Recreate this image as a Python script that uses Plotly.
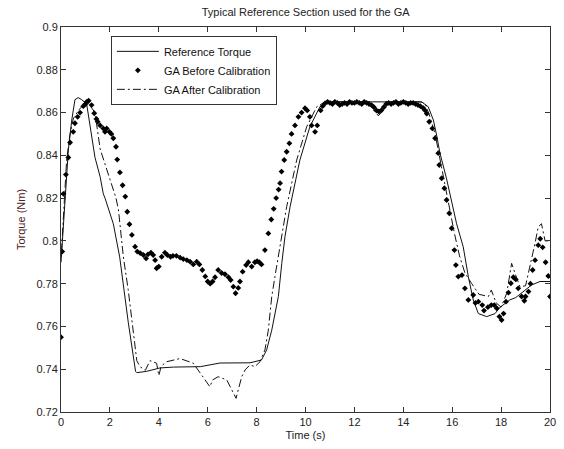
import plotly.graph_objects as go

# Reference torque (solid)
ref_t = [0, 0.16, 0.3, 0.44, 0.57, 0.7, 0.85, 1.05, 1.19, 1.39, 1.6, 1.73, 1.8, 2.0, 2.14, 2.4,
         2.75, 3.05, 3.1, 3.5, 4.05, 4.6, 5.28, 5.7, 6.5, 7.05, 7.73, 8.2, 8.41, 8.62, 8.89, 9.03,
         9.16, 9.37, 9.77, 10.18, 10.59, 10.87, 11.5, 12.5, 13.5, 14.5, 14.75, 15.02, 15.23, 15.37,
         15.5, 15.77, 16.0, 16.18, 16.45, 16.66, 16.86, 17.07, 17.41, 17.75, 17.96, 18.36, 18.6,
         18.98, 19.25, 19.59, 20]
ref_y = [0.790, 0.819, 0.8425, 0.8565, 0.866, 0.867, 0.866, 0.864, 0.853, 0.839, 0.830, 0.822,
         0.820, 0.813, 0.808, 0.7925, 0.762, 0.739, 0.7384, 0.739, 0.7406, 0.741, 0.7412, 0.7412,
         0.7429, 0.7429, 0.743, 0.7443, 0.749, 0.7583, 0.774, 0.7895, 0.802, 0.816, 0.8378, 0.8534,
         0.8627, 0.865, 0.865, 0.865, 0.865, 0.865, 0.865, 0.8627, 0.8565, 0.8490, 0.841, 0.829,
         0.818, 0.808, 0.7973, 0.7833, 0.7724, 0.766, 0.7646, 0.766, 0.769, 0.7724, 0.7735, 0.777,
         0.7794, 0.781, 0.781]

# GA after calibration (dash-dot)
after_t = [0.02, 0.16, 0.23, 0.37, 0.5, 0.71, 0.91, 1.12, 1.39, 1.6, 1.8, 2.0, 2.25, 2.35, 2.55,
           2.75, 2.96, 3.1, 3.23, 3.45, 3.64, 3.91, 4.0, 4.1, 4.32, 4.87, 5.41, 5.82, 6.09, 6.2,
           6.43, 6.78, 7.05, 7.16, 7.39, 7.53, 7.73, 7.93, 8.14, 8.34, 8.48, 8.62, 8.75, 8.96, 9.09,
           9.23, 9.64, 10.05, 10.46, 10.8, 12.6, 12.78, 12.98, 13.1, 13.3, 14.7, 14.89, 15.09, 15.3,
           15.6, 15.9, 16.1, 16.3, 16.52, 16.8, 17.0, 17.1, 17.48, 17.6, 17.8, 18.0, 18.23, 18.43,
           18.57, 18.77, 19.0, 19.18, 19.39, 19.52, 19.65, 19.8, 20]
after_y = [0.795, 0.822, 0.8378, 0.850, 0.857, 0.861, 0.8635, 0.8643, 0.860, 0.843, 0.836, 0.829,
           0.820, 0.8145, 0.7926, 0.777, 0.758, 0.744, 0.7412, 0.7395, 0.744, 0.7428, 0.737,
           0.7415, 0.7435, 0.745, 0.7428, 0.7365, 0.7318, 0.735, 0.7365, 0.735, 0.7288, 0.7264,
           0.7365, 0.7397, 0.742, 0.7412, 0.7435, 0.749, 0.7583, 0.774, 0.7833, 0.7973, 0.805,
           0.816, 0.8378, 0.8534, 0.8627, 0.865, 0.865, 0.8612, 0.8585, 0.860, 0.865, 0.865, 0.8643,
           0.858, 0.850, 0.832, 0.815, 0.803, 0.793, 0.785, 0.780, 0.777, 0.775, 0.774, 0.777, 0.771,
           0.769, 0.7755, 0.7895, 0.7848, 0.7786, 0.779, 0.788, 0.799, 0.8066, 0.808, 0.800, 0.800]

# GA before calibration (dots)
before_t = [0.0, 0.05, 0.1, 0.2, 0.3, 0.37, 0.5, 0.57, 0.68, 0.78, 0.91, 1.0, 1.05, 1.13, 1.25,
            1.36, 1.45, 1.5, 1.6, 1.73, 1.8, 1.87, 1.98, 2.06, 2.14, 2.25, 2.3, 2.41, 2.52, 2.63,
            2.71, 2.8, 2.9, 3.03, 3.12, 3.24, 3.37, 3.48, 3.56, 3.68, 3.77, 3.85, 3.91, 4.0, 4.12,
            4.25, 4.35, 4.48, 4.58, 4.72, 4.87, 5.0, 5.15, 5.28, 5.41, 5.55, 5.66, 5.78, 5.9, 6.0,
            6.1, 6.2, 6.3, 6.43, 6.57, 6.71, 6.85, 6.94, 7.05, 7.14, 7.25, 7.32, 7.43, 7.57, 7.66,
            7.8, 7.93, 8.02, 8.11, 8.2, 8.34, 8.48, 8.6, 8.7, 8.8, 8.9, 8.96, 9.02, 9.13, 9.23, 9.34,
            9.43, 9.57, 9.71, 9.84, 9.98, 10.07, 10.18, 10.25, 10.39, 10.48, 10.62, 10.7, 10.8,
            10.9, 11.0, 11.1, 11.2, 11.3, 11.4, 11.5, 11.6, 11.7, 11.8, 11.9, 12.0, 12.1, 12.2,
            12.3, 12.4, 12.5, 12.6, 12.7, 12.8, 12.9, 13.0, 13.1, 13.2, 13.3, 13.4, 13.5, 13.6,
            13.7, 13.8, 13.9, 14.0, 14.1, 14.2, 14.3, 14.4, 14.5, 14.6, 14.7, 14.82, 14.89, 14.96,
            15.06, 15.19, 15.3, 15.43, 15.47, 15.57, 15.68, 15.77, 15.88, 15.98, 16.09, 16.15,
            16.25, 16.4, 16.52, 16.66, 16.86, 16.95, 17.07, 17.23, 17.3, 17.46, 17.6, 17.72, 17.82,
            17.93, 18.02, 18.1, 18.2, 18.3, 18.4, 18.5, 18.6, 18.7, 18.84, 18.95, 19.0, 19.12, 19.2,
            19.29, 19.39, 19.52, 19.6, 19.7, 19.82, 19.93, 20.0]
before_y = [0.755, 0.795, 0.822, 0.831, 0.839, 0.846, 0.851, 0.855, 0.858, 0.860, 0.863, 0.864,
            0.865, 0.8655, 0.8635, 0.8597, 0.857, 0.8557, 0.854, 0.8526, 0.851, 0.8526, 0.851,
            0.850, 0.848, 0.844, 0.838, 0.832, 0.826, 0.8207, 0.8136, 0.8078, 0.8028, 0.7973,
            0.795, 0.7943, 0.7934, 0.7918, 0.7937, 0.7945, 0.7934, 0.791, 0.7872, 0.788, 0.7926,
            0.7945, 0.7934, 0.7926, 0.793, 0.793, 0.7922, 0.7915, 0.791, 0.7903, 0.789, 0.7903,
            0.789, 0.7864, 0.7834, 0.781, 0.780, 0.781, 0.783, 0.7864, 0.785, 0.7844, 0.783, 0.7817,
            0.7786, 0.7755, 0.778, 0.781, 0.7856, 0.7887, 0.790, 0.788, 0.790, 0.7905, 0.790, 0.789,
            0.7957, 0.8035, 0.810, 0.815, 0.820, 0.824, 0.827, 0.8324, 0.8378, 0.8417, 0.8456,
            0.850, 0.854, 0.858, 0.860, 0.862, 0.861, 0.858, 0.854, 0.851, 0.854, 0.861, 0.863,
            0.8643, 0.865, 0.8645, 0.864, 0.865, 0.8645, 0.8635, 0.864, 0.8645, 0.864, 0.865,
            0.8645, 0.8645, 0.865, 0.8645, 0.864, 0.865, 0.8645, 0.864, 0.8635, 0.8625, 0.861,
            0.8605, 0.861, 0.8625, 0.864, 0.8645, 0.864, 0.8645, 0.865, 0.864, 0.8645, 0.865,
            0.8645, 0.864, 0.8645, 0.8645, 0.864, 0.8635, 0.863, 0.862, 0.861, 0.8595, 0.8557,
            0.8526, 0.848, 0.841, 0.8355, 0.8293, 0.8246, 0.8191, 0.8129, 0.8059, 0.7957, 0.7887,
            0.7833, 0.784, 0.7778, 0.7724, 0.7747, 0.771, 0.7716, 0.770, 0.7674, 0.769, 0.770, 0.770,
            0.7685, 0.7646, 0.763, 0.766, 0.7716, 0.7758, 0.7802, 0.783, 0.782, 0.7778, 0.774, 0.772,
            0.774, 0.7763, 0.780, 0.7864, 0.791, 0.798, 0.801, 0.797, 0.790, 0.7836, 0.774]

x_ticks = [0, 2, 4, 6, 8, 10, 12, 14, 16, 18, 20]
y_ticks = [0.72, 0.74, 0.76, 0.78, 0.8, 0.82, 0.84, 0.86, 0.88, 0.9]
y_tick_text = ["0.72", "0.74", "0.76", "0.78", "0.8", "0.82", "0.84", "0.86", "0.88", "0.9"]

FONT = "Liberation Sans, Arial, sans-serif"

fig = go.Figure()
fig.add_trace(go.Scatter(x=ref_t, y=ref_y, mode="lines", name="Reference Torque",
                         line=dict(color="#111111", width=1)))
fig.add_trace(go.Scatter(x=before_t, y=before_y, mode="markers", name="GA Before Calibration",
                         marker=dict(symbol="diamond", size=4.5, color="black")))
fig.add_trace(go.Scatter(x=after_t, y=after_y, mode="lines", name="GA After Calibration",
                         line=dict(color="#111111", width=1, dash="8px,3px,2px,3px")))

axis_common = dict(showgrid=False, zeroline=False, showline=True, linecolor="#333333",
                   linewidth=1, mirror="ticks", ticks="inside", ticklen=5, tickcolor="#333333",
                   automargin=False,
                   tickfont=dict(family=FONT, size=11, color="#222222"))

fig.update_layout(
    width=564, height=449,
    margin=dict(l=61, r=14, t=27, b=37, autoexpand=False),
    paper_bgcolor="white", plot_bgcolor="white",
    title=dict(text="Typical Reference Section used for the GA", x=0.542, xanchor="center",
               y=0.973, yanchor="middle", yref="container",
               font=dict(family=FONT, size=11, color="#222222")),
    legend=dict(x=0.102, y=0.977, xanchor="left", yanchor="top", bgcolor="white",
                bordercolor="#333333", borderwidth=1, itemwidth=42,
                font=dict(family=FONT, size=11, color="#111111"), tracegroupgap=0),
    showlegend=True,
)
fig.update_xaxes(range=[0, 20], tickvals=x_ticks,
                 title=dict(text="Time (s)", font=dict(family=FONT, size=11, color="#222222"),
                            standoff=4),
                 **axis_common)
fig.update_yaxes(range=[0.72, 0.9], tickvals=y_ticks, ticktext=y_tick_text,
                 title=dict(text="Torque (Nm)", font=dict(family=FONT, size=11, color="#4a2222"),
                            standoff=8),
                 **axis_common)

fig.write_html("out.html", config={"displayModeBar": False},
               post_script="document.body.style.margin='0px';document.body.style.overflow='hidden';")
